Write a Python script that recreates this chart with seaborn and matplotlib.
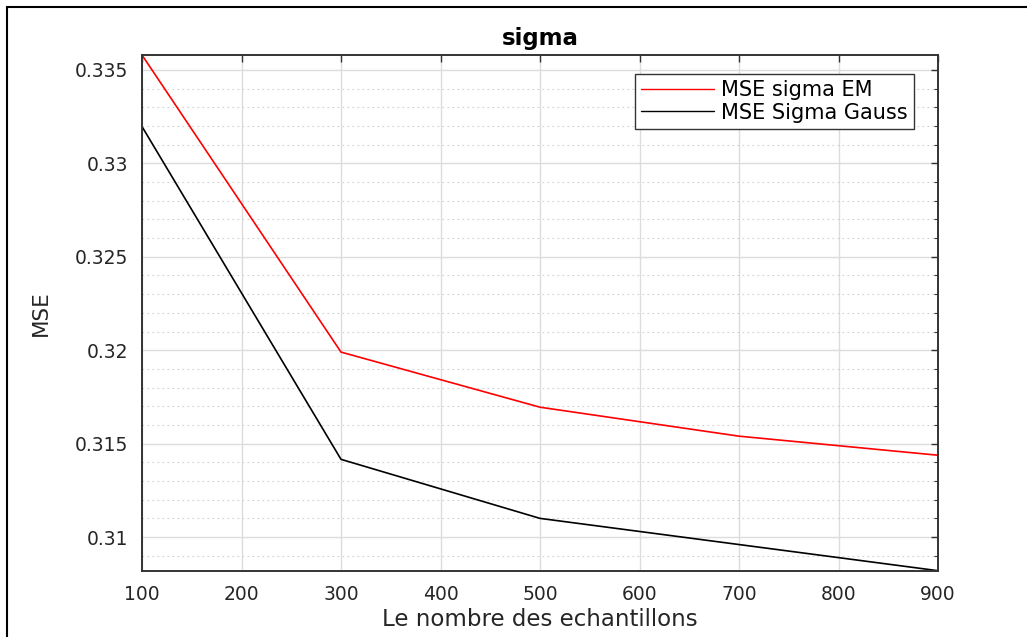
import matplotlib
matplotlib.use("Agg")
import matplotlib.pyplot as plt
import seaborn as sns
import pandas as pd
import numpy as np
from matplotlib.ticker import MultipleLocator
from matplotlib.patches import Rectangle

# Data
n_samples = [100, 300, 500, 700, 900]
mse_sigma_em = [0.3358, 0.3199, 0.31695, 0.3154, 0.31438]
mse_sigma_gauss = [0.33197, 0.31416, 0.3110, 0.3096, 0.3082]
series_labels = ["MSE sigma EM", "MSE Sigma Gauss"]
x_ticks = [100, 200, 300, 400, 500, 600, 700, 800, 900]
y_ticks = [0.31, 0.315, 0.32, 0.325, 0.33, 0.335]
y_tick_labels = ["0.31", "0.315", "0.32", "0.325", "0.33", "0.335"]

sns.set_theme(style="white")
plt.rcParams['font.family'] = ['DejaVu Sans']

W, H = 1027, 637
fig = plt.figure(figsize=(W / 100, H / 100), dpi=100)
ax = fig.add_axes([142 / W, 1 - 570.7 / H, (938 - 142) / W, (570.7 - 55) / H])

df = pd.DataFrame({
    "x": n_samples * 2,
    "y": mse_sigma_em + mse_sigma_gauss,
    "serie": [series_labels[0]] * len(n_samples) + [series_labels[1]] * len(n_samples),
})
sns.lineplot(data=df, x="x", y="y", hue="serie", palette=["#ff0000", "#000000"],
             linewidth=1.2, ax=ax, legend=True)

ax.set_xlim(100, 900)
ax.set_ylim(min(mse_sigma_gauss), max(mse_sigma_em))
ax.set_xticks(x_ticks)
ax.set_xticklabels([str(v) for v in x_ticks])
ax.set_yticks(y_ticks)
ax.set_yticklabels(y_tick_labels)
ax.yaxis.set_minor_locator(MultipleLocator(0.001))

ax.grid(True, which="major", color="#dcdcdc", linewidth=1.0, linestyle="-")
ax.grid(True, which="minor", axis="y", color="#d0d0d0", linewidth=0.8, linestyle=(0, (1.5, 3)))
ax.set_axisbelow(True)

for s in ax.spines.values():
    s.set_color("#333333")
    s.set_linewidth(1.4)
ax.tick_params(axis="both", which="both", direction="in", top=True, right=True,
               color="#333333", labelcolor="#262626")
ax.tick_params(axis="both", which="major", length=5, width=1, labelsize=13.5, pad=10)
ax.tick_params(axis="y", which="minor", length=3, width=0.8)
ax.tick_params(axis="x", which="minor", length=0)

ax.set_title("sigma", fontsize=16.5, fontweight="bold", color="#000000", pad=7)
ax.set_xlabel("Le nombre des echantillons", fontsize=16.5, color="#262626", labelpad=3)
ax.set_ylabel("MSE", fontsize=15.5, color="#262626", labelpad=17)

leg = ax.legend(loc="upper right", bbox_to_anchor=(1 - 24 / 796, 1 - 19 / 515.7),
                frameon=True, fancybox=False, fontsize=15, handlelength=3.5,
                borderpad=0.3, labelspacing=0.12, handletextpad=0.35, borderaxespad=0)
leg.get_frame().set_edgecolor("#333333")
leg.get_frame().set_linewidth(1.0)
leg.get_frame().set_facecolor("white")
leg.get_frame().set_alpha(1)
for line in leg.get_lines():
    line.set_linewidth(1.0)
for t in leg.get_texts():
    t.set_color("#000000")

# outer frame
fig.patches.append(Rectangle((7 / W, -0.05), 1.2, 1 - 7 / H + 0.05, transform=fig.transFigure,
                             fill=False, edgecolor="black", linewidth=1.5))

fig.savefig("out.png", dpi=100)
